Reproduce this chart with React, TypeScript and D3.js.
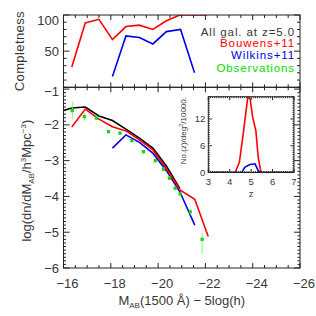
import React from "react";
import * as d3 from "d3";

// ---------- data ----------
const binMags = [-16.35, -16.92, -17.5, -18.07, -18.64, -19.21, -19.78, -20.35, -20.92, -21.5, -22.07];

// top panel: completeness
const complRed = [28, 89, 94, 66, 84, 86, 80, 92, 100, 100, 100];
const complBlueMags = [-18.07, -18.64, -19.21, -19.78, -20.35, -20.95, -21.54];
const complBlue = [15, 71, 69, 60, 77, 80, 20];

// main panel: luminosity function
const lfBlackMags = [-15.78, -16.35, -16.92, -17.5, -18.07, -18.64, -19.21, -19.78, -20.35, -20.92];
const lfBlack = [-1.64, -1.53, -1.5, -1.75, -1.88, -2.12, -2.37, -2.65, -3.15, -3.78];
const lfRedMags = [-16.35, -16.92, -17.5, -18.07, -18.64, -19.21, -19.78, -20.35, -20.92, -21.55, -22.12];
const lfRed = [-2.06, -1.56, -1.84, -2.05, -2.17, -2.42, -2.7, -3.22, -3.82, -4.08, -5.12];
const lfBlueMags = [-18.07, -18.64, -19.21, -19.78, -20.35, -20.92, -21.55];
const lfBlue = [-2.65, -2.28, -2.49, -2.79, -3.28, -3.87, -4.8];

// observations
const obsMags = [-16.37, -16.88, -17.39, -17.9, -18.39, -18.89, -19.38, -19.88, -20.23, -20.48, -20.72, -20.93, -21.36, -21.86];
const obsVals = [-1.6, -1.77, -1.81, -2.19, -2.23, -2.44, -2.75, -3.0, -3.24, -3.49, -3.77, -3.93, -4.43, -5.2];
const obsErrLo = [0.25, 0.12, 0.06, 0.05, 0.05, 0.05, 0.05, 0.05, 0.05, 0.05, 0.05, 0.05, 0.08, 0.41];
const obsErrHi = [0.25, 0.12, 0.06, 0.05, 0.05, 0.05, 0.05, 0.05, 0.05, 0.05, 0.05, 0.05, 0.08, 0.18];

// inset: redshift distribution
const zRed = [3, 4.25, 4.45, 4.63, 4.84, 4.95, 5.07, 5.22, 5.33, 5.46, 7];
const nzRed = [0, 0, 2.3, 8.7, 16.8, 16.6, 12.4, 9.4, 3.4, 0, 0];
const zBlue = [3, 4.56, 4.71, 4.95, 5.18, 5.33, 5.41, 7];
const nzBlue = [0, 0, 1.2, 1.8, 1.95, 0.45, 0, 0];

// ticks
const xMajorTicks = [-16, -18, -20, -22, -24, -26];
const topYTicks = [100, 50];
const mainYTicks = [-1, -2, -3, -4, -5, -6];
const insetXTicks = [3, 4, 5, 6, 7];
const insetYTicks = [0, 6, 12];

const legendLabels = ["All gal. at z=5.0", "Bouwens+11", "Wilkins+11", "Observations"];

// ---------- layout ----------
const FONT = "'Liberation Sans', Arial, sans-serif";
const TXT = "#383838";
const AX = "#222";
const RED = "#ff0000";
const BLUE = "#0000ee";
const GREEN = "#00dd00";
const LGREEN = "#88ee88";

const xS = d3.scaleLinear().domain([-16, -26]).range([63.5, 300]);
const yTop = d3.scaleLinear().domain([0, 100]).range([87.3, 15]);
const yMain = d3.scaleLinear().domain([-6, -0.95]).range([268, 87.3]);
const xIn = d3.scaleLinear().domain([3, 7]).range([208.3, 294]);
const yIn = d3.scaleLinear().domain([0, 17]).range([172.5, 96.7]);

function line(xs: number[], ys: number[], sx: any, sy: any) {
  const pts = xs.map((x, i) => [x, ys[i]] as [number, number]);
  return d3.line<[number, number]>().x((d) => sx(d[0])).y((d) => sy(d[1]))(pts) || "";
}

function range(a: number, b: number, step: number) {
  const out: number[] = [];
  const n = Math.round((b - a) / step);
  for (let i = 0; i <= n; i++) out.push(+(a + i * step).toFixed(4));
  return out;
}

function XTicks({ sx, yB, yT, minor, major, lenMaj, lenMin }: any) {
  const els: any[] = [];
  minor.forEach((v: number, i: number) => {
    const isMaj = major.some((m: number) => Math.abs(m - v) < 1e-6);
    const L = isMaj ? lenMaj : lenMin;
    const x = sx(v);
    els.push(<line key={"b" + i} x1={x} x2={x} y1={yB} y2={yB - L} stroke={AX} strokeWidth={1} />);
    els.push(<line key={"t" + i} x1={x} x2={x} y1={yT} y2={yT + L} stroke={AX} strokeWidth={1} />);
  });
  return <g>{els}</g>;
}

function YTicks({ sy, xL, xR, minor, major, lenMaj, lenMin }: any) {
  const els: any[] = [];
  minor.forEach((v: number, i: number) => {
    const isMaj = major.some((m: number) => Math.abs(m - v) < 1e-6);
    const L = isMaj ? lenMaj : lenMin;
    const y = sy(v);
    els.push(<line key={"l" + i} x1={xL} x2={xL + L} y1={y} y2={y} stroke={AX} strokeWidth={1} />);
    els.push(<line key={"r" + i} x1={xR} x2={xR - L} y1={y} y2={y} stroke={AX} strokeWidth={1} />);
  });
  return <g>{els}</g>;
}

export default function App() {
  const [x0, x1] = xS.range();
  const topY0 = yTop.range()[1];
  const topY1 = yTop.range()[0];
  const mainY0 = yMain.range()[1];
  const mainY1 = yMain.range()[0];
  const [ix0, ix1] = xIn.range();
  const iy1 = yIn.range()[0];
  const iy0 = yIn.range()[1];

  return (
    <svg width={316} height={316} style={{ position: "absolute", left: 0, top: 0, background: "#fff" }} fontFamily={FONT}>
      <defs>
        <clipPath id="clipTop"><rect x={x0} y={topY0} width={x1 - x0} height={topY1 - topY0} /></clipPath>
        <clipPath id="clipMain"><rect x={x0} y={mainY0} width={x1 - x0} height={mainY1 - mainY0} /></clipPath>
        <clipPath id="clipIn"><rect x={ix0} y={iy0 - 1} width={ix1 - ix0} height={iy1 - iy0 + 1} /></clipPath>
      </defs>
      <rect x={0} y={0} width={316} height={316} fill="#fff" />

      {/* ---- top panel ---- */}
      <g clipPath="url(#clipTop)">
        <path d={line(binMags, complRed, xS, yTop)} fill="none" stroke={RED} strokeWidth={1.6} />
        <path d={line(complBlueMags, complBlue, xS, yTop)} fill="none" stroke={BLUE} strokeWidth={1.6} />
      </g>
      <rect x={x0} y={topY0} width={x1 - x0} height={topY1 - topY0} fill="none" stroke={AX} strokeWidth={1} />
      <XTicks sx={xS} yB={topY1} yT={topY0} minor={range(-16, -26, -0.5)} major={xMajorTicks} lenMaj={5} lenMin={3} />
      <YTicks sy={yTop} xL={x0} xR={x1} minor={range(0, 100, 10)} major={topYTicks} lenMaj={6} lenMin={3} />
      {topYTicks.map((v) => (
        <text key={v} x={59} y={yTop(v) + (v === 100 ? 9.5 : 5)} textAnchor="end" fontSize={13} fill={TXT}>{v}</text>
      ))}
      <text transform={`translate(24,${(topY0 + topY1) / 2}) rotate(-90)`} textAnchor="middle" fontSize={13} fill={TXT} letterSpacing={0.4}>Completness</text>

      {legendLabels.map((t, i) => (
        <text key={t} x={295} y={[36.3, 47.3, 59, 71.7][i]} textAnchor="end" fontSize={11.5} letterSpacing={0.9}
          fill={[TXT, RED, BLUE, GREEN][i]}>{t}</text>
      ))}

      {/* ---- main panel ---- */}
      <g clipPath="url(#clipMain)">
        <path d={line(lfBlackMags, lfBlack, xS, yMain)} fill="none" stroke="#000" strokeWidth={1.6} />
        <path d={line(lfBlueMags, lfBlue, xS, yMain)} fill="none" stroke={BLUE} strokeWidth={1.6} />
        <path d={line(lfRedMags, lfRed, xS, yMain)} fill="none" stroke={RED} strokeWidth={1.6} />
        {obsMags.map((m, i) => (
          <g key={i}>
            <line x1={xS(m)} x2={xS(m)} y1={yMain(obsVals[i] - obsErrLo[i])} y2={yMain(obsVals[i] + obsErrHi[i])} stroke={LGREEN} strokeWidth={1} />
            <rect x={xS(m) - 1.6} y={yMain(obsVals[i]) - 1.6} width={3.2} height={3.2} fill={GREEN} />
          </g>
        ))}
      </g>
      <rect x={x0} y={mainY0} width={x1 - x0} height={mainY1 - mainY0} fill="none" stroke={AX} strokeWidth={1} />
      <XTicks sx={xS} yB={mainY1} yT={mainY0} minor={range(-16, -26, -0.5)} major={xMajorTicks} lenMaj={5} lenMin={3} />
      <YTicks sy={yMain} xL={x0} xR={x1} minor={range(-6, -1, 0.1)} major={mainYTicks} lenMaj={6} lenMin={2.5} />
      {mainYTicks.map((v) => (
        <text key={v} x={59} y={yMain(v) + (v === -1 ? 6.5 : 4.5)} textAnchor="end" fontSize={13} fill={TXT}>{"\u2212" + Math.abs(v)}</text>
      ))}
      {xMajorTicks.map((v) => (
        <text key={v} x={xS(v) + 4} y={288} textAnchor="middle" fontSize={13} fill={TXT}>{"\u2212" + Math.abs(v)}</text>
      ))}
      <text x={(x0 + x1) / 2} y={305} textAnchor="middle" fontSize={13} fill={TXT}>
        M<tspan fontSize={8} dy={3}>AB</tspan><tspan dy={-3}>(1500 Å) − 5log(h)</tspan>
      </text>
      <text transform={`translate(31,${(mainY0 + mainY1) / 2 + 3}) rotate(-90)`} textAnchor="middle" fontSize={13} fill={TXT}>
        log(dn/dM<tspan fontSize={8} dy={3}>AB</tspan><tspan dy={-3}>/h</tspan><tspan fontSize={8} dy={-5}>3</tspan><tspan dy={5}>Mpc</tspan><tspan fontSize={8} dy={-5}>−3</tspan><tspan dy={5}>)</tspan>
      </text>

      {/* ---- inset ---- */}
      <rect x={ix0} y={iy0} width={ix1 - ix0} height={iy1 - iy0} fill="#fff" stroke="none" />
      <g clipPath="url(#clipIn)">
        <path d={line(zRed, nzRed, xIn, yIn)} fill="none" stroke={RED} strokeWidth={1.6} />
        <path d={line(zBlue, nzBlue, xIn, yIn)} fill="none" stroke={BLUE} strokeWidth={1.6} />
      </g>
      <rect x={ix0} y={iy0} width={ix1 - ix0} height={iy1 - iy0} fill="none" stroke={AX} strokeWidth={1} />
      <XTicks sx={xIn} yB={iy1} yT={iy0} minor={range(3, 7, 0.1)} major={insetXTicks} lenMaj={3.5} lenMin={1.5} />
      <YTicks sy={yIn} xL={ix0} xR={ix1} minor={range(0, 17, 0.5)} major={insetYTicks} lenMaj={3.5} lenMin={1.5} />
      {insetXTicks.map((v) => (
        <text key={v} x={xIn(v)} y={185} textAnchor="middle" fontSize={9.5} fill={TXT}>{v}</text>
      ))}
      {insetYTicks.map((v) => (
        <text key={v} x={ix0 - 3} y={yIn(v) + 3.5} textAnchor="end" fontSize={9.5} fill={TXT}>{v}</text>
      ))}
      <text x={(ix0 + ix1) / 2} y={197} textAnchor="middle" fontSize={9.5} fill={TXT}>z</text>
      <text transform={`translate(186,${(iy0 + iy1) / 2 - 4}) rotate(-90)`} textAnchor="middle" fontSize={8} fill={TXT}>
        No.(z)/deg<tspan fontSize={5.5} dy={-3}>2</tspan><tspan dy={3}>/10000.</tspan>
      </text>
    </svg>
  );
}
